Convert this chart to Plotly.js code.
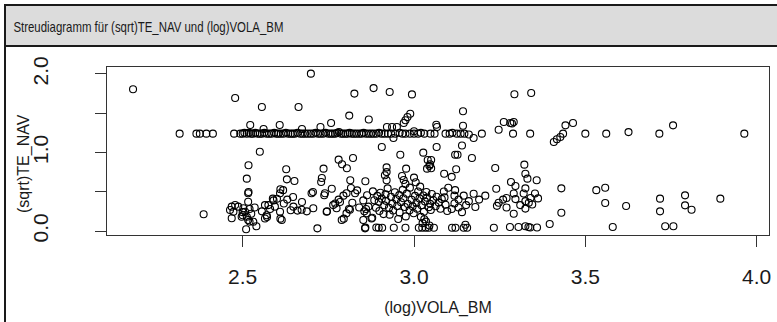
<!DOCTYPE html>
<html>
<head>
<meta charset="utf-8">
<script src="https://cdn.plot.ly/plotly-3.0.1.min.js"></script>
<style>html,body{margin:0;padding:0;background:#fff;}#chart{width:777px;height:322px;}</style>
</head>
<body>
<div id="chart"></div>
<script>
// Horizontal band of points near (sqrt)TE_NAV = 1.24
const bandX = [2.316,2.365,2.375,2.394,2.413,2.475,2.493,2.500,2.505,2.512,2.518,2.524,2.530,2.537,2.543,2.550,2.556,2.563,2.570,2.577,2.584,2.592,2.598,2.604,2.611,2.619,2.626,2.633,2.640,2.646,2.652,2.660,2.668,2.675,2.682,2.690,2.698,2.706,2.713,2.720,2.727,2.735,2.742,2.750,2.757,2.763,2.770,2.776,2.781,2.787,2.793,2.800,2.806,2.812,2.818,2.825,2.832,2.840,2.847,2.853,2.860,2.868,2.875,2.882,2.890,2.898,2.905,2.914,2.924,2.933,2.945,2.958,2.966,2.975,2.988,3.000,3.012,3.020,3.030,3.048,3.060,3.092,3.104,3.112,3.125,3.136,3.147,3.160,3.198,3.289,3.339,3.435,3.500,3.561,3.626,3.716,3.964];
const bandY = [1.24,1.24,1.24,1.24,1.24,1.24,1.24,1.24,1.25,1.24,1.25,1.24,1.24,1.25,1.24,1.24,1.24,1.25,1.24,1.24,1.24,1.25,1.24,1.24,1.24,1.24,1.25,1.24,1.24,1.24,1.24,1.25,1.24,1.24,1.24,1.24,1.24,1.24,1.25,1.24,1.24,1.24,1.25,1.24,1.24,1.24,1.24,1.25,1.26,1.24,1.24,1.24,1.24,1.25,1.24,1.24,1.24,1.24,1.24,1.25,1.24,1.24,1.24,1.24,1.24,1.25,1.24,1.24,1.24,1.24,1.24,1.25,1.24,1.24,1.24,1.24,1.24,1.25,1.24,1.24,1.24,1.24,1.24,1.25,1.24,1.24,1.24,1.23,1.24,1.24,1.24,1.24,1.24,1.24,1.26,1.24,1.24];

// Points above and just around the band
const upperX = [2.180,2.478,2.699,2.556,2.663,2.826,2.882,2.929,2.994,2.811,2.868,2.522,2.608,2.561,2.673,2.727,2.758,2.989,2.981,2.975,2.970,2.921,2.936,2.950,3.065,3.067,3.143,3.143,3.247,3.293,3.342,3.262,3.281,3.286,3.291,3.408,3.417,3.427,3.442,3.464,3.756,3.174,2.940,3.000];
const upperY = [1.805,1.694,2.004,1.580,1.580,1.750,1.820,1.770,1.740,1.470,1.420,1.350,1.350,1.300,1.300,1.325,1.376,1.494,1.452,1.410,1.375,1.325,1.325,1.325,1.354,1.325,1.525,1.340,1.290,1.741,1.757,1.389,1.376,1.370,1.389,1.134,1.168,1.197,1.346,1.376,1.346,1.185,1.185,1.270];

// Points between 0.5 and 1.1
const midX = [2.550,2.517,2.512,2.517,2.627,2.629,2.651,2.610,2.736,2.731,2.729,2.705,2.760,2.780,2.790,2.804,2.822,2.814,2.816,2.858,2.834,2.906,2.960,3.066,3.027,3.040,3.050,3.120,3.127,3.169,3.038,3.123,3.110,3.088,3.140,3.237,2.920,2.920,2.977,2.920,2.965,2.970,2.975,3.000,3.005,3.322,3.325,3.331,3.358,3.283,3.296,3.325,3.430,3.532,3.558,3.240,3.047,3.050,3.045,2.915];
const midY = [1.010,0.837,0.667,0.497,0.786,0.658,0.637,0.531,0.794,0.675,0.624,0.497,0.539,0.909,0.850,0.800,0.930,0.646,0.548,0.633,0.518,1.070,0.972,1.070,0.998,0.904,0.904,0.972,0.972,0.930,0.794,0.786,0.690,0.730,1.090,0.803,0.810,0.750,0.794,0.646,0.700,0.650,0.600,0.680,0.620,0.845,0.730,0.667,0.646,0.625,0.574,0.543,0.543,0.520,0.550,0.539,0.850,0.800,0.830,0.710];

// Points below 0.5
const lowX = [2.386,2.468,2.463,2.473,2.478,2.487,2.502,2.507,2.512,2.516,2.531,2.510,2.497,2.468,2.516,2.516,2.500,2.500,2.520,2.520,2.525,2.535,2.540,
2.565,2.575,2.590,2.600,2.594,2.609,2.618,2.565,2.570,2.614,2.609,2.588,2.647,2.673,2.648,2.672,2.687,2.706,2.701,2.718,2.640,2.660,2.610,2.571,2.556,2.580,2.620,2.630,
2.740,2.745,2.774,2.784,2.794,2.803,2.813,2.803,2.789,2.764,2.738,2.746,2.795,2.810,2.780,2.770,2.828,2.852,2.867,2.862,2.852,2.857,2.876,2.863,2.860,2.855,2.858,2.840,2.820,
2.880,2.884,2.878,2.893,2.889,2.897,2.902,2.899,2.906,2.913,2.917,2.911,2.923,2.918,2.927,2.933,2.929,2.937,2.944,2.939,2.948,2.951,2.954,2.957,2.962,2.958,2.967,2.973,2.969,2.976,2.982,2.979,2.987,2.993,2.988,2.996,3.003,2.999,3.007,3.012,3.009,3.016,3.022,3.018,3.027,3.032,3.029,3.036,3.043,3.038,3.047,3.052,3.049,3.056,3.063,3.066,3.072,3.077,3.081,3.087,3.092,3.089,3.097,
2.890,2.897,2.907,2.941,2.975,3.014,3.024,3.034,3.043,3.058,3.111,3.121,3.145,3.155,3.233,3.030,3.025,3.020,3.150,3.045,3.035,
3.174,3.145,3.208,3.179,3.118,3.152,3.118,3.120,3.130,3.160,3.190,3.247,3.242,3.110,3.140,3.100,3.130,
3.291,3.320,3.353,3.362,3.296,3.325,3.345,3.291,3.325,3.280,3.305,3.325,3.334,3.339,3.359,3.396,3.430,3.260,3.270,3.340,3.310,3.335,3.270,
3.558,3.619,3.580,3.718,3.718,3.791,3.791,3.810,3.894,3.733,3.757];
const lowY = [0.213,0.310,0.268,0.246,0.331,0.310,0.289,0.246,0.182,0.140,0.118,0.022,0.182,0.162,0.480,0.373,0.240,0.200,0.120,0.280,0.220,0.300,0.060,
0.330,0.330,0.390,0.410,0.310,0.480,0.520,0.160,0.200,0.140,0.245,0.412,0.433,0.369,0.310,0.270,0.250,0.290,0.480,0.034,0.265,0.260,0.157,0.178,0.250,0.280,0.350,0.400,
0.480,0.245,0.290,0.370,0.450,0.480,0.270,0.225,0.140,0.330,0.455,0.250,0.157,0.280,0.400,0.350,0.480,0.390,0.310,0.225,0.140,0.034,0.160,0.455,0.280,0.250,0.043,0.300,0.360,
0.505,0.392,0.168,0.447,0.296,0.371,0.488,0.254,0.412,0.327,0.466,0.215,0.543,0.384,0.297,0.436,0.208,0.349,0.494,0.262,0.405,0.318,0.152,0.457,0.366,0.236,0.524,0.305,0.418,0.186,0.344,0.476,0.263,0.398,0.552,0.314,0.447,0.226,0.357,0.503,0.284,0.415,0.329,0.565,0.452,0.377,0.246,0.497,0.304,0.425,0.346,0.472,0.268,0.394,0.316,0.437,0.362,0.283,0.408,0.503,0.335,0.428,0.255,
0.045,0.042,0.042,0.042,0.042,0.042,0.042,0.042,0.042,0.042,0.042,0.042,0.042,0.042,0.042,0.150,0.100,0.180,0.080,0.070,0.120,
0.475,0.450,0.450,0.306,0.350,0.330,0.450,0.520,0.400,0.380,0.400,0.360,0.320,0.280,0.240,0.550,0.300,
0.478,0.478,0.478,0.415,0.406,0.380,0.338,0.220,0.285,0.050,0.050,0.060,0.050,0.045,0.045,0.090,0.233,0.400,0.300,0.420,0.330,0.360,0.420,
0.356,0.318,0.050,0.412,0.250,0.454,0.327,0.270,0.412,0.060,0.060];

const xTickVals = [2.5, 3.0, 3.5, 4.0];
const xTickText = ["2.5", "3.0", "3.5", "4.0"];
const yTickVals = [0.0, 0.5, 1.0, 1.5, 2.0];
const yTickText = ["0.0", "", "1.0", "", "2.0"];

const allX = bandX.concat(upperX, midX, lowX);
const allY = bandY.concat(upperY, midY, lowY);

const W = 777, H = 322, L = 107, R = 8, T = 67, B = 87;
const pw = W - L - R, ph = H - T - B;
const px = v => (v - L) / pw;
const py = v => (H - B - v) / ph;

const trace = {
  x: allX, y: allY, type: 'scatter', mode: 'markers',
  marker: {symbol: 'circle-open', size: 7, color: '#000', line: {width: 1.1, color: '#000'}},
  hoverinfo: 'x+y'
};

const fontMain = 'Liberation Sans, Arial, sans-serif';
const layout = {
  width: W, height: H,
  margin: {l: L, r: R, t: T, b: B},
  paper_bgcolor: '#fff', plot_bgcolor: '#fff',
  showlegend: false,
  font: {family: fontMain, color: '#1a1a1a'},
  xaxis: {
    range: [2.104, 4.036], tickvals: xTickVals, ticktext: xTickText,
    ticks: 'outside', ticklen: 11, tickwidth: 1, tickcolor: '#333',
    showline: true, linecolor: '#333', linewidth: 1, mirror: true,
    showgrid: false, zeroline: false,
    tickfont: {size: 21, family: fontMain, color: '#1a1a1a'},
    ticklabelstandoff: 12,
    title: {text: '(log)VOLA_BM', font: {size: 16, family: fontMain, color: '#1a1a1a'}, standoff: 14}
  },
  yaxis: {
    range: [-0.051, 2.089], tickvals: yTickVals, ticktext: yTickText,
    ticks: 'outside', ticklen: 11, tickwidth: 1, tickcolor: '#333',
    showline: true, linecolor: '#333', linewidth: 1, mirror: true,
    showgrid: false, zeroline: false, tickangle: -90,
    tickfont: {size: 21, family: fontMain, color: '#1a1a1a'},
    ticklabelstandoff: 39
  },
  shapes: [
    {type: 'rect', xref: 'paper', yref: 'paper', x0: px(6), x1: px(800), y0: py(46), y1: py(5), fillcolor: '#dcdcdc', line: {width: 0}, layer: 'below'},
    {type: 'line', xref: 'paper', yref: 'paper', x0: px(5), x1: px(800), y0: py(5), y1: py(5), line: {color: '#1a1a1a', width: 2}},
    {type: 'line', xref: 'paper', yref: 'paper', x0: px(5), x1: px(800), y0: py(46), y1: py(46), line: {color: '#1a1a1a', width: 2}},
    {type: 'line', xref: 'paper', yref: 'paper', x0: px(5), x1: px(5), y0: py(4), y1: py(340), line: {color: '#1a1a1a', width: 2}}
  ],
  annotations: [
    {text: 'Streudiagramm für (sqrt)TE_NAV und (log)VOLA_BM', xref: 'paper', yref: 'paper', x: px(148), y: py(26), xanchor: 'center', yanchor: 'middle', showarrow: false,
     font: {size: 15, family: fontMain, color: '#1a1a1a'}},
    {text: '(sqrt)TE_NAV', xref: 'paper', yref: 'paper', x: px(24), y: py(164), xanchor: 'center', yanchor: 'middle', textangle: -90, showarrow: false,
     font: {size: 16, family: fontMain, color: '#1a1a1a'}}
  ]
};

Plotly.newPlot('chart', [trace], layout, {displayModeBar: false, staticPlot: true}).then(function () {
  // condense the header text like the narrow font of the reference
  const t = document.querySelector('.annotation-text');
  if (t) {
    t.setAttribute('textLength', '270');
    t.setAttribute('lengthAdjust', 'spacingAndGlyphs');
  }
});
</script>
</body>
</html>
